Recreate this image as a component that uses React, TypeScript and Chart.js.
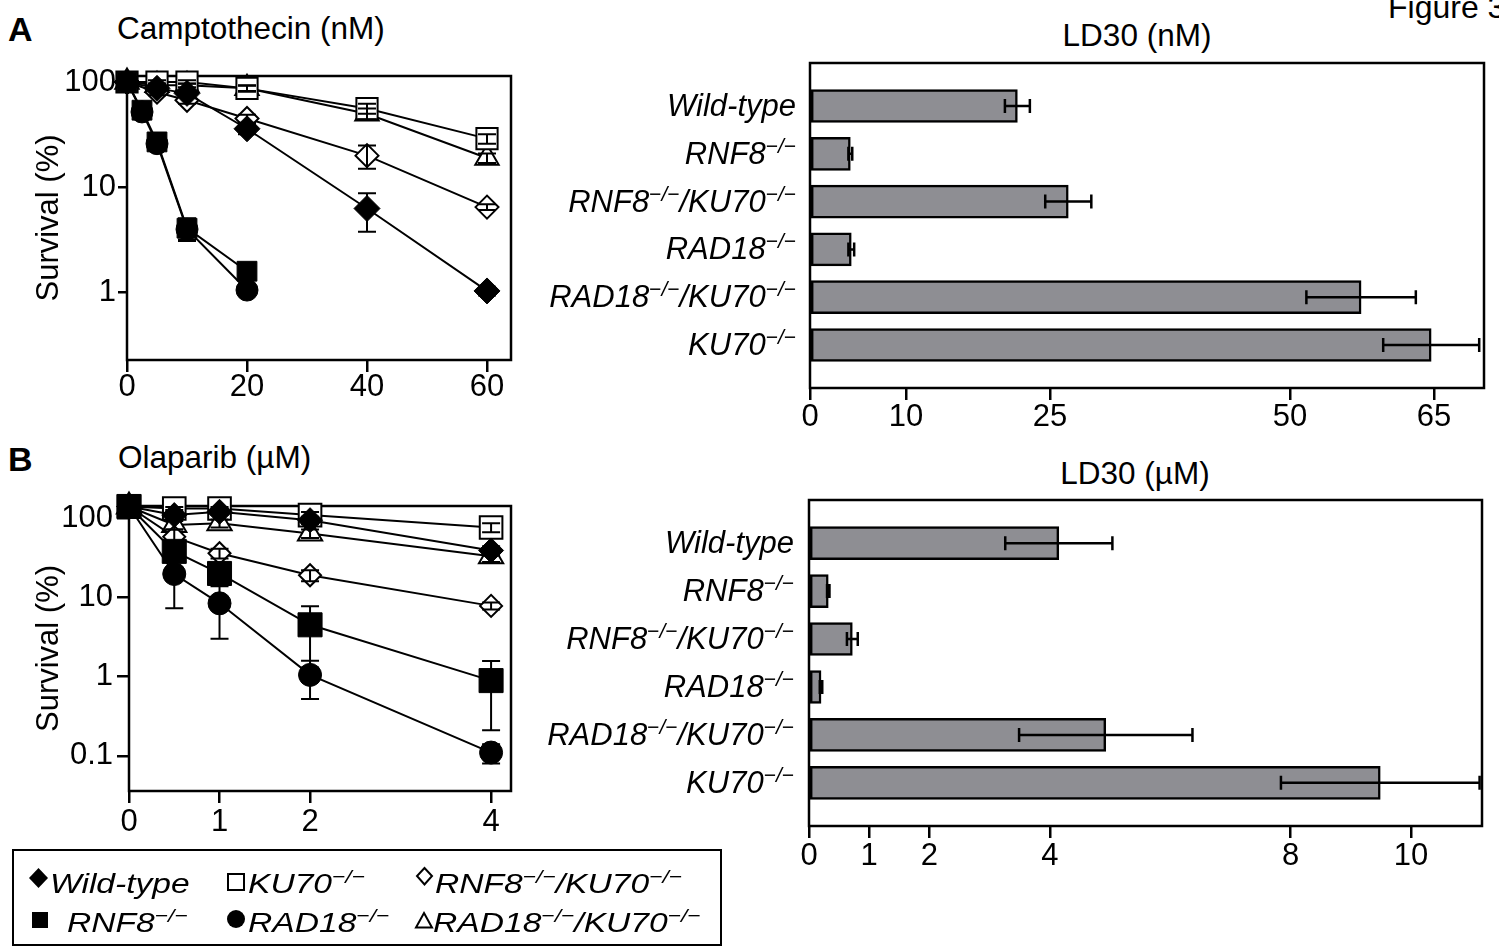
import React, { useEffect, useRef } from 'react';
import { Chart, registerables } from 'chart.js';

Chart.register(...registerables);

const FAMILY = '"Liberation Sans", Arial, Helvetica, sans-serif';

// ---------------- data ----------------
const genotypes = ['Wild-type', 'RNF8-/-', 'RNF8-/-/KU70-/-', 'RAD18-/-', 'RAD18-/-/KU70-/-', 'KU70-/-'];

// A: Camptothecin (nM) survival (%)
const cptDoses = [0, 5, 10, 20, 40, 60];
const cptDosesSensitive = [0, 2.5, 5, 10, 20];
const cptWildType = [100, 87, 78, 36, 6.3, 1.04];
const cptWildTypeSd = [0, 4, 5, 4, 2.5, 0.1];
const cptKU70 = [100, 100, 100, 87, 56, 29];
const cptKU70Sd = [0, 4, 4, 5, 6, 3];
const cptRNF8KU70 = [100, 80, 67, 45, 20, 6.5];
const cptRNF8KU70Sd = [0, 5, 5, 4, 5, 0.4];
const cptRAD18KU70 = [100, 93, 93, 87, 50, 19];
const cptRAD18KU70Sd = [0, 4, 4, 6, 6, 2];
const cptRNF8 = [100, 54, 27, 4.1, 1.6];
const cptRNF8Sd = [0, 5, 3, 1.0, 0.15];
const cptRAD18 = [100, 52, 26, 4.0, 1.06];
const cptRAD18Sd = [0, 5, 3, 0.8, 0.1];
const cptDoseTicks = [0, 20, 40, 60];
const cptSurvivalTicks = [1, 10, 100];

// B: Olaparib (µM) survival (%)
const olaDoses = [0, 0.5, 1, 2, 4];
const olaWildType = [140, 109, 120, 94, 39];
const olaWildTypeSd = [0, 10, 10, 10, 5];
const olaKU70 = [140, 132, 132, 109, 76];
const olaKU70Sd = [0, 6, 6, 10, 10];
const olaRNF8KU70 = [140, 58, 36, 19, 7.8];
const olaRNF8KU70Sd = [0, 14, 5, 3, 0.8];
const olaRAD18KU70 = [140, 82, 86, 64, 33];
const olaRAD18KU70Sd = [0, 10, 10, 8, 5];
const olaRNF8 = [140, 38, 20, 4.5, 0.89];
const olaRNF8Sd = [0, 5, 4, 3.2, 0.68];
const olaRAD18 = [140, 19.7, 8.4, 1.05, 0.11];
const olaRAD18Sd = [0, 12.4, 5.4, 0.53, 0.03];
const olaDoseTicks = [0, 1, 2, 4];
const olaSurvivalTicks = [0.1, 1, 10, 100];

// LD30 bars
const ld30Cpt = [21.6, 4.2, 26.9, 4.3, 57.4, 64.7];
const ld30CptSd = [1.3, 0.2, 2.4, 0.3, 5.7, 5.0];
const ld30CptTicks = [0, 10, 25, 50, 65];
const ld30Ola = [4.15, 0.32, 0.72, 0.2, 4.93, 9.49];
const ld30OlaSd = [0.89, 0.02, 0.09, 0.02, 1.44, 1.65];
const ld30OlaTicks = [0, 1, 2, 4, 8, 10];

// ---------------- helpers ----------------
const SUP = '\u2212/\u2212';
function splitLabel(s: string) {
  return s
    .split(/(-\/-)/)
    .filter((p) => p !== '')
    .map((p) => (p === '-/-' ? { text: SUP, sup: true } : { text: p, sup: false }));
}

const framePlugin = {
  id: 'frame',
  beforeDatasetsDraw(chart: any) {
    const { ctx, chartArea: a } = chart;
    ctx.save();
    ctx.strokeStyle = '#000';
    ctx.lineWidth = 2.5;
    ctx.strokeRect(a.left, a.top, a.right - a.left, a.bottom - a.top);
    ctx.restore();
  },
};

const errorBarPlugin = {
  id: 'errorBars',
  afterDatasetsDraw(chart: any) {
    const ctx = chart.ctx;
    const horizontal = chart.options.indexAxis === 'y';
    const vScale = horizontal ? chart.scales.x : chart.scales.y;
    chart.data.datasets.forEach((ds: any, i: number) => {
      const errs: number[] = ds.errors;
      if (!errs) return;
      const meta = chart.getDatasetMeta(i);
      const cap = ds.errorCap || 9;
      ctx.save();
      ctx.strokeStyle = '#000';
      ctx.lineWidth = ds.errorWidth || 2;
      meta.data.forEach((el: any, j: number) => {
        const e = errs[j];
        if (!e) return;
        const raw = ds.data[j];
        const v = horizontal ? raw.x : raw.y;
        let lo = v - e;
        if (lo <= vScale.min) lo = vScale.min;
        const p1 = vScale.getPixelForValue(lo);
        const p2 = vScale.getPixelForValue(v + e);
        ctx.beginPath();
        if (horizontal) {
          const y = el.y;
          ctx.moveTo(p1, y); ctx.lineTo(p2, y);
          ctx.moveTo(p1, y - cap); ctx.lineTo(p1, y + cap);
          ctx.moveTo(p2, y - cap); ctx.lineTo(p2, y + cap);
        } else {
          const x = el.x;
          ctx.moveTo(x, p1); ctx.lineTo(x, p2);
          if (lo > vScale.min) { ctx.moveTo(x - cap, p1); ctx.lineTo(x + cap, p1); }
          ctx.moveTo(x - cap, p2); ctx.lineTo(x + cap, p2);
        }
        ctx.stroke();
      });
      ctx.restore();
    });
  },
};

function categoryLabelPlugin(labels: string[], gap: number) {
  const fontFor = (sup: boolean) => (sup ? `italic 21px ${FAMILY}` : `italic 31px ${FAMILY}`);
  return {
    id: 'categoryLabels',
    afterDraw(chart: any) {
      const ctx = chart.ctx;
      const ys = chart.scales.y;
      const right = chart.chartArea.left - gap;
      ctx.save();
      ctx.fillStyle = '#000';
      ctx.textBaseline = 'alphabetic';
      ctx.textAlign = 'left';
      labels.forEach((lab, i) => {
        const segs = splitLabel(lab);
        const widths = segs.map((s) => { ctx.font = fontFor(s.sup); return ctx.measureText(s.text).width; });
        const total = widths.reduce((a, b) => a + b, 0);
        let x = right - total;
        const y = ys.getPixelForValue(i) + 10;
        segs.forEach((s, k) => {
          ctx.font = fontFor(s.sup);
          ctx.fillText(s.text, x, s.sup ? y - 11 : y);
          x += widths[k];
        });
      });
      ctx.restore();
    },
  };
}

type Spec = { xs: number[]; ys: number[]; sd: number[]; shape: string; filled: boolean; r: number };

function lineConfig(series: Spec[], o: any) {
  return {
    type: 'line',
    data: {
      datasets: series.map((s) => ({
        data: s.xs.map((x, i) => ({ x, y: s.ys[i] })),
        errors: s.sd,
        errorCap: 9,
        errorWidth: 2,
        borderColor: '#000',
        borderWidth: 2,
        tension: 0,
        fill: false,
        clip: false,
        pointStyle: s.shape,
        pointRadius: s.r,
        pointHoverRadius: s.r,
        pointBackgroundColor: s.filled ? '#000' : '#fff',
        pointBorderColor: '#000',
        pointBorderWidth: s.filled ? 1 : 2,
      })),
    },
    options: {
      animation: false,
      responsive: false,
      events: [],
      layout: { padding: { top: o.padTop, right: o.padRight, left: 0, bottom: 0 } },
      plugins: { legend: { display: false }, tooltip: { enabled: false }, title: { display: false } },
      scales: {
        x: {
          type: 'linear',
          min: 0,
          max: o.xMax,
          afterBuildTicks: (s: any) => { s.ticks = o.xTicks.map((v: number) => ({ value: v })); },
          afterFit: (s: any) => { s.height = o.xHeight; s.paddingLeft = 0; s.paddingRight = 0; },
          grid: { display: true, drawOnChartArea: false, drawTicks: true, tickLength: 12, color: '#000', lineWidth: 2.5 },
          border: { display: false },
          ticks: { color: '#000', padding: o.xTickPad, autoSkip: false, maxRotation: 0, font: { family: FAMILY, size: 31, lineHeight: 1 } },
        },
        y: {
          type: 'logarithmic',
          min: o.yMin,
          max: o.yMax,
          afterBuildTicks: (s: any) => { s.ticks = o.yTicks.map((v: number) => ({ value: v })); },
          afterFit: (s: any) => { s.width = o.yWidth; s.paddingTop = 0; s.paddingBottom = 0; },
          grid: { display: true, drawOnChartArea: false, drawTicks: true, tickLength: o.yTickLen, color: '#000', lineWidth: 2.5 },
          border: { display: false },
          ticks: { color: '#000', padding: o.yTickPad, autoSkip: false, font: { family: FAMILY, size: 31, lineHeight: 1 }, callback: (v: any) => String(v) },
          title: { display: true, text: 'Survival (%)', color: '#000', font: { family: FAMILY, size: 31, lineHeight: 1.2 }, padding: { top: 11, bottom: 0 } },
        },
      },
    },
    plugins: [framePlugin, errorBarPlugin],
  };
}

function barConfig(values: number[], sds: number[], ticks: number[], o: any) {
  return {
    type: 'bar',
    data: {
      datasets: [
        {
          data: values.map((v, i) => ({ x: v, y: i })),
          errors: sds,
          errorCap: 7,
          errorWidth: 2.5,
          backgroundColor: '#8e8e93',
          borderColor: '#000',
          borderWidth: 2.5,
          borderSkipped: false,
          barThickness: 33,
        },
      ],
    },
    options: {
      animation: false,
      responsive: false,
      events: [],
      indexAxis: 'y',
      layout: { padding: { top: o.padTop, right: o.padRight, left: 0, bottom: 0 } },
      plugins: { legend: { display: false }, tooltip: { enabled: false } },
      scales: {
        x: {
          type: 'linear',
          min: 0,
          max: o.xMax,
          afterBuildTicks: (s: any) => { s.ticks = ticks.map((v) => ({ value: v })); },
          afterFit: (s: any) => { s.height = o.xHeight; s.paddingLeft = 0; s.paddingRight = 0; },
          grid: { display: true, drawOnChartArea: false, drawTicks: true, tickLength: 12, color: '#000', lineWidth: 2.5 },
          border: { display: false },
          ticks: { color: '#000', padding: o.xTickPad, autoSkip: false, maxRotation: 0, font: { family: FAMILY, size: 31, lineHeight: 1 } },
        },
        y: {
          type: 'linear',
          min: -0.9,
          max: 5.9,
          offset: false,
          reverse: true,
          afterFit: (s: any) => { s.width = o.yWidth; s.paddingTop = 0; s.paddingBottom = 0; },
          grid: { display: false, offset: false },
          border: { display: false },
          ticks: { display: false },
        },
      },
    },
    plugins: [framePlugin, errorBarPlugin, categoryLabelPlugin(genotypes, o.labelGap)],
  };
}

function ChartCanvas({ left, top, width, height, make }: { left: number; top: number; width: number; height: number; make: () => any }) {
  const ref = useRef<HTMLCanvasElement>(null);
  useEffect(() => {
    const chart = new Chart(ref.current as HTMLCanvasElement, make());
    return () => chart.destroy();
  }, []);
  return (
    <canvas
      ref={ref}
      width={width}
      height={height}
      style={{ position: 'absolute', left, top, width, height, display: 'block' }}
    />
  );
}

const BASE = 0.8465;
const SHIFT = 3;

function Txt({ x, baseline, size, bold, center, children }: any) {
  return (
    <div
      style={{
        position: 'absolute',
        left: x,
        top: baseline - BASE * size + SHIFT,
        fontSize: size,
        lineHeight: 1,
        fontWeight: bold ? 'bold' : 'normal',
        whiteSpace: 'nowrap',
        transform: center ? 'translateX(-50%)' : undefined,
      }}
    >
      {children}
    </div>
  );
}

function LegendLabel({ x, baseline, text }: { x: number; baseline: number; text: string }) {
  const size = 28;
  return (
    <div
      style={{
        position: 'absolute',
        left: x,
        top: baseline - BASE * size + SHIFT,
        fontSize: size,
        lineHeight: 1,
        fontStyle: 'italic',
        whiteSpace: 'nowrap',
        transform: 'scaleX(1.2)',
        transformOrigin: 'left center',
      }}
    >
      {splitLabel(text).map((s, i) =>
        s.sup ? (
          <span key={i} style={{ fontSize: 19, position: 'relative', top: -10 }}>{s.text}</span>
        ) : (
          <span key={i}>{s.text}</span>
        )
      )}
    </div>
  );
}

export default function App() {
  const cptSeries: Spec[] = [
    { xs: cptDosesSensitive, ys: cptRNF8, sd: cptRNF8Sd, shape: 'rect', filled: true, r: 14 },
    { xs: cptDosesSensitive, ys: cptRAD18, sd: cptRAD18Sd, shape: 'circle', filled: true, r: 11 },
    { xs: cptDoses, ys: cptWildType, sd: cptWildTypeSd, shape: 'rectRot', filled: true, r: 13 },
    { xs: cptDoses, ys: cptRNF8KU70, sd: cptRNF8KU70Sd, shape: 'rectRot', filled: false, r: 11.5 },
    { xs: cptDoses, ys: cptKU70, sd: cptKU70Sd, shape: 'rect', filled: false, r: 15 },
    { xs: cptDoses, ys: cptRAD18KU70, sd: cptRAD18KU70Sd, shape: 'triangle', filled: false, r: 13.5 },
  ];
  const olaSeries: Spec[] = [
    { xs: olaDoses, ys: olaRAD18, sd: olaRAD18Sd, shape: 'circle', filled: true, r: 11.5 },
    { xs: olaDoses, ys: olaRNF8, sd: olaRNF8Sd, shape: 'rect', filled: true, r: 17 },
    { xs: olaDoses, ys: olaWildType, sd: olaWildTypeSd, shape: 'rectRot', filled: true, r: 12.5 },
    { xs: olaDoses, ys: olaRNF8KU70, sd: olaRNF8KU70Sd, shape: 'rectRot', filled: false, r: 11 },
    { xs: olaDoses, ys: olaRAD18KU70, sd: olaRAD18KU70Sd, shape: 'triangle', filled: false, r: 14 },
    { xs: olaDoses, ys: olaKU70, sd: olaKU70Sd, shape: 'rect', filled: false, r: 16 },
  ];

  return (
    <div
      style={{
        position: 'fixed',
        left: 0,
        top: 0,
        width: 1499,
        height: 948,
        background: '#fff',
        overflow: 'hidden',
        fontFamily: FAMILY,
        color: '#000',
      }}
    >
      <Txt x={8} baseline={38} size={34} bold>A</Txt>
      <Txt x={8} baseline={468} size={34} bold>B</Txt>
      <Txt x={117} baseline={37} size={31.5}>Camptothecin (nM)</Txt>
      <Txt x={118} baseline={466} size={31.5}>Olaparib (µM)</Txt>
      <Txt x={1137} baseline={44} size={31.5} center>LD30 (nM)</Txt>
      <Txt x={1135} baseline={482} size={31.5} center>LD30 (µM)</Txt>
      <Txt x={1388} baseline={15} size={32}>Figure 3</Txt>

      <ChartCanvas
        left={20}
        top={46}
        width={510}
        height={374}
        make={() =>
          lineConfig(cptSeries, {
            padTop: 30, padRight: 19, yWidth: 107, xHeight: 60,
            xMax: 64, xTicks: cptDoseTicks, yMin: 0.23, yMax: 114, yTicks: cptSurvivalTicks,
            yTickLen: 9, yTickPad: 2, xTickPad: 0,
          })
        }
      />
      <ChartCanvas
        left={20}
        top={476}
        width={510}
        height={364}
        make={() =>
          lineConfig(olaSeries, {
            padTop: 30, padRight: 19, yWidth: 109, xHeight: 49,
            xMax: 4.22, xTicks: olaDoseTicks, yMin: 0.036, yMax: 142, yTicks: olaSurvivalTicks,
            yTickLen: 12, yTickPad: 4, xTickPad: 4,
          })
        }
      />
      <ChartCanvas
        left={530}
        top={33}
        width={969}
        height={407}
        make={() =>
          barConfig(ld30Cpt, ld30CptSd, ld30CptTicks, {
            padTop: 30, padRight: 15, yWidth: 280, xHeight: 52, xMax: 70.2, xTickPad: 2, labelGap: 14,
          })
        }
      />
      <ChartCanvas
        left={530}
        top={470}
        width={969}
        height={408}
        make={() =>
          barConfig(ld30Ola, ld30OlaSd, ld30OlaTicks, {
            padTop: 30, padRight: 17, yWidth: 279, xHeight: 52, xMax: 11.18, xTickPad: 3, labelGap: 15,
          })
        }
      />

      {/* legend */}
      <div
        style={{
          position: 'absolute',
          left: 12,
          top: 849,
          width: 710,
          height: 97,
          border: '2.5px solid #000',
          boxSizing: 'border-box',
        }}
      />
      <svg style={{ position: 'absolute', left: 0, top: 0 }} width={1499} height={948}>
        <polygon points="38.5,868 48,878 38.5,888 29,878" fill="#000" />
        <rect x={228} y={874} width={16} height={16} fill="#fff" stroke="#000" strokeWidth={2} />
        <polygon points="424.5,868 432,876 424.5,884.5 417,876" fill="#fff" stroke="#000" strokeWidth={2} />
        <rect x={32} y={912} width={16} height={16} fill="#000" />
        <circle cx={236} cy={919} r={9} fill="#000" />
        <polygon points="424,913 432,927.5 416,927.5" fill="#fff" stroke="#000" strokeWidth={2} />
      </svg>
      <LegendLabel x={50} baseline={891} text={genotypes[0]} />
      <LegendLabel x={248} baseline={891} text={genotypes[5]} />
      <LegendLabel x={435} baseline={891} text={genotypes[2]} />
      <LegendLabel x={67} baseline={930} text={genotypes[1]} />
      <LegendLabel x={248} baseline={930} text={genotypes[3]} />
      <LegendLabel x={433} baseline={930} text={genotypes[4]} />
    </div>
  );
}
